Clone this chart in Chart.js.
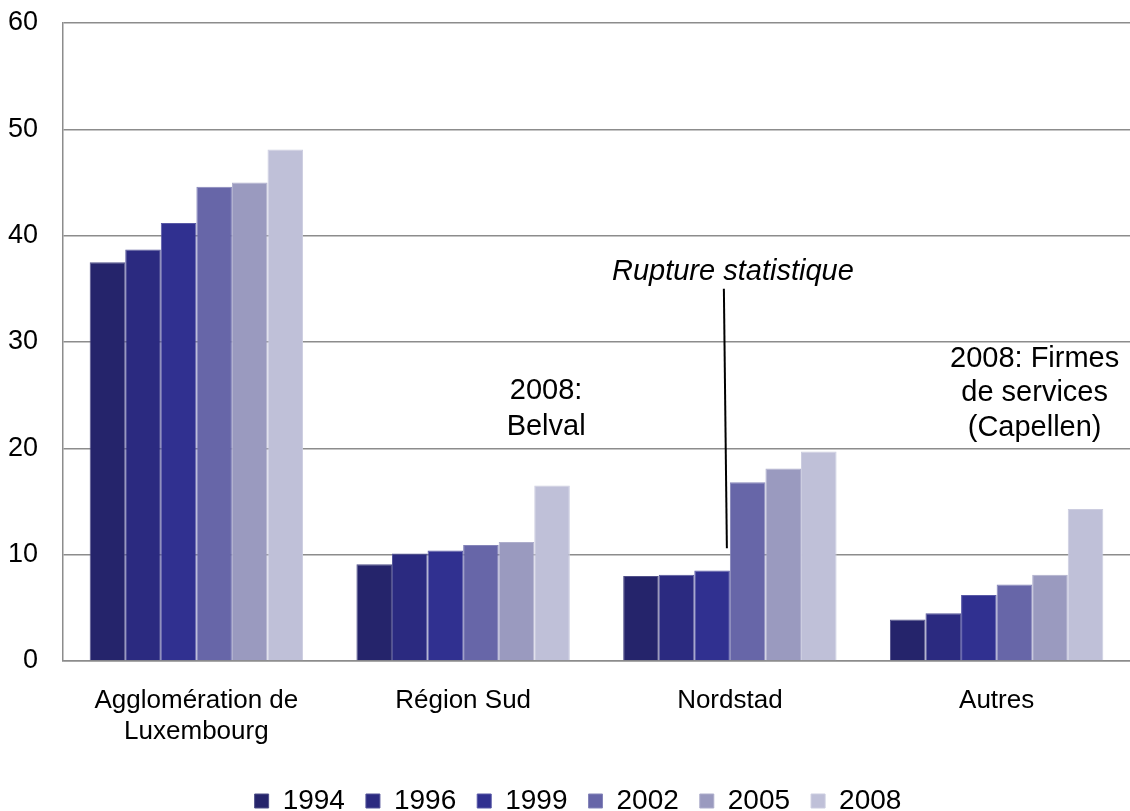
<!DOCTYPE html>
<html>
<head>
<meta charset="utf-8">
<script src="https://cdn.jsdelivr.net/npm/chart.js@4.4.1/dist/chart.umd.min.js"></script>
<style>
  html, body { margin: 0; padding: 0; background: #fff; }
  #wrap { width: 1130px; height: 811px; }
</style>
</head>
<body>
<div id="wrap"><canvas id="chart"></canvas></div>
<script>
// données
let regions = [['Agglomération de', 'Luxembourg'], 'Région Sud', 'Nordstad', 'Autres'];
let years = ['1994', '1996', '1999', '2002', '2005', '2008'];
let v1994 = [37.5, 9.1, 8.0, 3.9];
let v1996 = [38.7, 10.1, 8.1, 4.5];
let v1999 = [41.2, 10.4, 8.5, 6.2];
let v2002 = [44.6, 10.9, 16.8, 7.2];
let v2005 = [45.0, 11.2, 18.1, 8.1];
let v2008 = [48.1, 16.5, 19.7, 14.3];
let yTicks = [0, 10, 20, 30, 40, 50, 60];

let colors = ['#25246b', '#2b2a80', '#303090', '#6766a8', '#9a9abf', '#bfc0d8'];
let series = [v1994, v1996, v1999, v2002, v2005, v2008];

// bord un peu plus clair que la barre
function lighter(hex, k = 0.2) {
	let n = parseInt(hex.slice(1), 16),
		c = [n >> 16, (n >> 8) & 255, n & 255].map(v => Math.round(v + (255 - v) * k));
	return `rgb(${c.join(',')})`;
}

let ctx = document.getElementById('chart').getContext('2d');
Chart.defaults.font.family = '"Liberation Sans", Arial, sans-serif';
Chart.defaults.color = '#000';

// textes ajoutés sur le graphique
let notes = {
	id: 'notes',
	afterLayout(chart) {
		// légende un peu décalée à droite comme sur l'original
		chart.legend.left += 13;
		chart.legend.right += 13;
	},
	afterDatasetsDraw(chart) {
		const {ctx, scales: {x, y}} = chart;
		const cx = i => x.getPixelForValue(i);
		ctx.save();
		ctx.fillStyle = '#000';
		ctx.textAlign = 'center';
		ctx.textBaseline = 'middle';
		ctx.font = '29px "Liberation Sans", Arial, sans-serif';

		let belY = y.getPixelForValue(25.4);
		ctx.fillText('2008:', cx(1) + 83, belY);
		ctx.fillText('Belval', cx(1) + 83, belY + 36);

		let firY = y.getPixelForValue(28.4);
		ctx.fillText('2008: Firmes', cx(3) + 38, firY);
		ctx.fillText('de services', cx(3) + 38, firY + 34);
		ctx.fillText('(Capellen)', cx(3) + 38, firY + 69);

		ctx.font = 'italic 29px "Liberation Sans", Arial, sans-serif';
		ctx.fillText('Rupture statistique', cx(2) + 3, y.getPixelForValue(36.6));

		ctx.beginPath();
		ctx.strokeStyle = '#000';
		ctx.lineWidth = 2;
		ctx.moveTo(cx(2) - 6, y.getPixelForValue(35.0));
		ctx.lineTo(cx(2) - 3, y.getPixelForValue(10.6));
		ctx.stroke();
		ctx.restore();
	}
};

let chart = new Chart(ctx, {
	type: 'bar',
	data: {
		labels: regions,
		datasets: years.map((yr, i) => ({
			label: yr,
			data: series[i],
			backgroundColor: colors[i],
			borderColor: lighter(colors[i]),
			borderWidth: 1,
			categoryPercentage: 0.8,
			barPercentage: 1.0
		}))
	},
	options: {
		responsive: true,
		maintainAspectRatio: false,
		animation: false,
		layout: { padding: { top: 23, left: 0, right: 0, bottom: -14 } },
		plugins: {
			title: { display: false },
			tooltip: { enabled: false },
			legend: {
				position: 'bottom',
				labels: {
					boxWidth: 14,
					boxHeight: 14,
					padding: 21,
					color: '#000',
					font: { size: 28 }
				}
			}
		},
		scales: {
			x: {
				grid: { display: false, drawTicks: false },
				border: { display: true, color: '#8c8c8c', width: 1.5 },
				ticks: { padding: 24, font: { size: 26 }, color: '#000', maxRotation: 0 },
				afterFit: axis => { axis.height = 105; }
			},
			y: {
				min: 0,
				max: 60,
				afterBuildTicks: axis => { axis.ticks = yTicks.map(v => ({ value: v })); },
				afterFit: axis => { axis.width = 63; axis.paddingTop = 0; axis.paddingBottom = 0; },
				grid: { color: '#8c8c8c', lineWidth: 1.5, drawTicks: false },
				border: { display: true, color: '#8c8c8c', width: 1.5 },
				ticks: { padding: 25, font: { size: 27 }, color: '#000' }
			}
		}
	},
	plugins: [notes]
});
</script>
</body>
</html>
